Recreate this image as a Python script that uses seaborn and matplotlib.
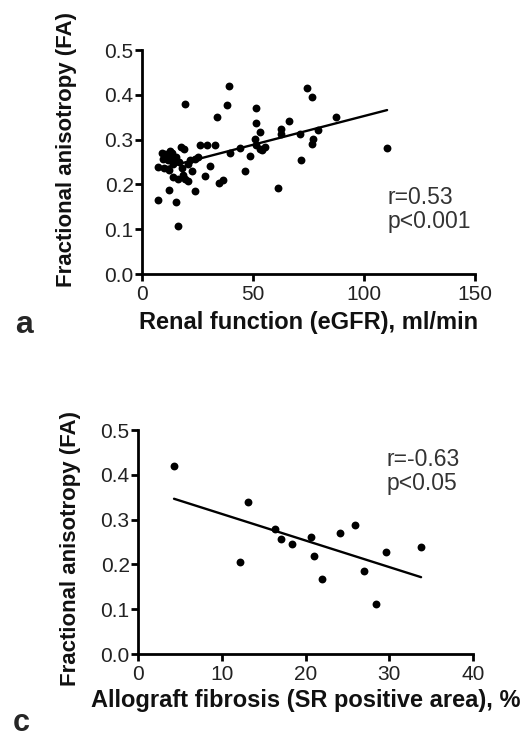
import matplotlib
matplotlib.use("Agg")
import matplotlib.pyplot as plt
import seaborn as sns
import pandas as pd

# Panel a: renal function vs FA
egfr = [7.2, 15.2, 16.4, 12.2, 23.9, 14.1, 16.3, 19.4, 20.5, 28.4, 34.6, 36.3,
        7.2, 10.0, 12.0, 14.1, 13.5, 17.9, 20.8, 22.4, 23.9, 25.3, 30.6,
        8.8, 10.5, 12.0, 13.4, 9.5, 11.5, 15.5, 17.6, 19.0, 19.5, 26.1, 29.1,
        32.9, 34.0, 38.4, 39.3, 39.6, 44.1, 46.4, 48.6, 51.3, 51.3, 53.1, 50.9,
        51.3, 53.1, 55.4, 53.9, 61.3, 62.4, 62.4, 66.3, 71.1, 71.4, 74.4, 76.4,
        76.4, 77.1, 79.4, 87.6, 110.4, 16.5, 18.5, 21.8, 12.8]
fa_a = [0.166, 0.160, 0.108, 0.188, 0.186, 0.216, 0.212, 0.212, 0.208, 0.219, 0.204, 0.209,
        0.238, 0.236, 0.232, 0.245, 0.253, 0.237, 0.246, 0.231, 0.257, 0.261, 0.242,
        0.270, 0.268, 0.264, 0.270, 0.257, 0.255, 0.262, 0.284, 0.278, 0.380, 0.287, 0.287,
        0.289, 0.351, 0.378, 0.420, 0.271, 0.281, 0.230, 0.264, 0.371, 0.337, 0.317, 0.302,
        0.287, 0.280, 0.283, 0.276, 0.191, 0.324, 0.313, 0.341, 0.313, 0.255, 0.416, 0.395,
        0.291, 0.302, 0.322, 0.350, 0.282, 0.250, 0.222, 0.255, 0.275]

# Panel c: allograft fibrosis vs FA
fibrosis = [4.3, 12.2, 13.1, 16.4, 17.1, 18.4, 20.6, 21.0, 22.0, 24.1, 25.9, 27.0, 28.4, 29.6, 33.8]
fa_c = [0.420, 0.206, 0.340, 0.280, 0.256, 0.246, 0.262, 0.219, 0.167, 0.269, 0.289, 0.186, 0.111, 0.228, 0.239]

a_xticks = [0, 50, 100, 150]
c_xticks = [0, 10, 20, 30, 40]
yticks = [0.0, 0.1, 0.2, 0.3, 0.4, 0.5]

sns.set_style("ticks")
plt.rcParams['font.family'] = ['Liberation Sans', 'DejaVu Sans']

df_a = pd.DataFrame({"egfr": egfr, "fa": fa_a})
df_c = pd.DataFrame({"fib": fibrosis, "fa": fa_c})

W, H = 524, 738
fig = plt.figure(figsize=(W / 100, H / 100), dpi=100)
ax_a = fig.add_axes([142 / W, 1 - 274 / H, 333 / W, 224 / H])
ax_c = fig.add_axes([138 / W, 1 - 654 / H, 335 / W, 224 / H])

sc_kw = dict(s=32, color="black", linewidths=0, alpha=1)
ln_kw = dict(color="black", linewidth=1.7)

sns.regplot(data=df_a, x="egfr", y="fa", ax=ax_a, ci=None, truncate=True,
            scatter_kws=sc_kw, line_kws=ln_kw)
sns.regplot(data=df_c, x="fib", y="fa", ax=ax_c, ci=None, truncate=True,
            scatter_kws=sc_kw, line_kws=ln_kw)

def style(ax, xticks, xlabel, ylab_x, ylab_y, xlab_y):
    ax.set_xlim(xticks[0], xticks[-1])
    ax.set_ylim(0, 0.5)
    ax.set_xticks(xticks)
    ax.set_yticks(yticks)
    ax.set_yticklabels([f"{v:.1f}" for v in yticks])
    for side in ["top", "right"]:
        ax.spines[side].set_visible(False)
    for side in ["left", "bottom"]:
        ax.spines[side].set_linewidth(2)
        ax.spines[side].set_color("black")
    ax.tick_params(axis="both", direction="out", length=5, width=2, colors="black",
                   labelsize=15, labelcolor="#222222")
    ax.tick_params(axis="y", pad=1)
    ax.tick_params(axis="x", pad=3)
    ax.set_xlabel(xlabel, fontsize=17, fontweight="bold", color="#111111")
    ax.set_ylabel("Fractional anisotropy (FA)", fontsize=16, fontweight="bold", color="#111111")
    ax.yaxis.set_label_coords(ylab_x, ylab_y)
    ax.xaxis.set_label_coords(0.5, xlab_y)

style(ax_a, a_xticks, "Renal function (eGFR), ml/min", -0.195, 0.554, -0.165)
style(ax_c, c_xticks, "Allograft fibrosis (SR positive area), %", -0.170, 0.473, -0.157)

ax_a.text(0.736, 0.393, "r=0.53\np<0.001", transform=ax_a.transAxes, ha="left", va="top",
          fontsize=16.5, color="#333333", linespacing=1.05)
ax_c.text(0.743, 0.92, "r=-0.63\np<0.05", transform=ax_c.transAxes, ha="left", va="top",
          fontsize=16.5, color="#333333", linespacing=1.05)

fig.text(15 / W, 1 - 333 / H, "a", fontsize=23, fontweight="bold", ha="left", va="baseline")
fig.text(13 / W, 1 - 731 / H, "c", fontsize=22, fontweight="bold", ha="left", va="baseline")

fig.savefig("out.png", dpi=100)
